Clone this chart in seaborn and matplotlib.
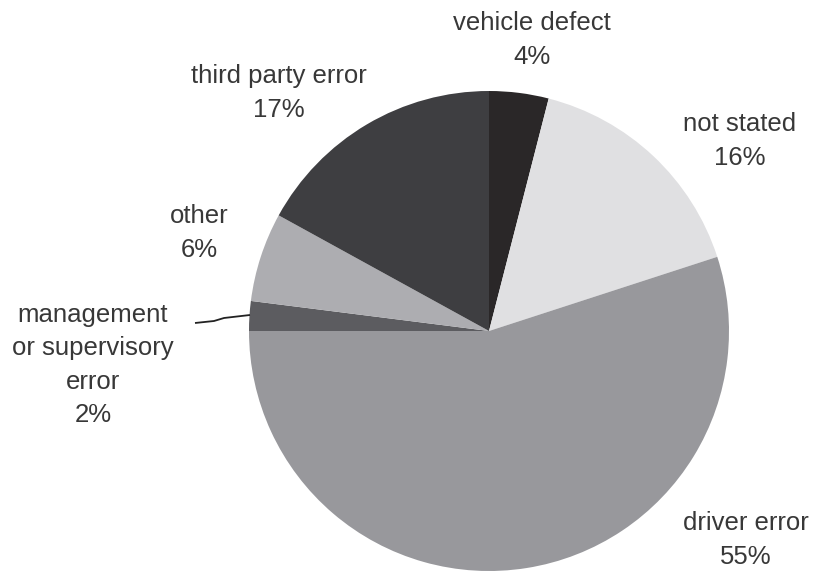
import matplotlib
matplotlib.use("Agg")
import matplotlib.pyplot as plt
import seaborn as sns

sns.set_theme(style="white")
plt.rcParams["font.family"] = ["Liberation Sans", "DejaVu Sans"]

# Causes of incidents, share in percent (clockwise from 12 o'clock)
categories = ["vehicle defect", "not stated", "driver error",
              "management\nor supervisory\nerror", "other", "third party error"]
shares = [4, 16, 55, 2, 6, 17]
colors = ["#2a2728", "#e0e0e2", "#98989c", "#5c5c60", "#adadb1", "#3e3e41"]

# Label anchor points (figure pixels, top-left origin)
label_xy = [(532, 40), (740, 141), (746, 540), (93, 365), (199, 233), (279, 93)]

W, H = 813, 572
fig = plt.figure(figsize=(W / 100, H / 100), dpi=100)
ax = fig.add_axes([0, 0, 1, 1])

ax.pie(shares, colors=colors, startangle=90, counterclock=False,
       center=(489, H - 331), radius=240, frame=True,
       wedgeprops=dict(linewidth=0))
ax.set_xlim(0, W)
ax.set_ylim(0, H)
ax.set_aspect("equal")
ax.axis("off")

for name, val, (px, py) in zip(categories, shares, label_xy):
    ax.text(px, H - py, f"{name}\n{val}%", ha="center", va="center",
            fontsize=18.5, color="#383838", linespacing=1.5)

# Leader line for the thin management slice
ax.plot([195, 214, 224, 250], [H - 323, H - 321, H - 318, H - 315],
        color="#222222", lw=1.3, solid_capstyle="butt")

fig.savefig("out.png", dpi=100, facecolor="white")
